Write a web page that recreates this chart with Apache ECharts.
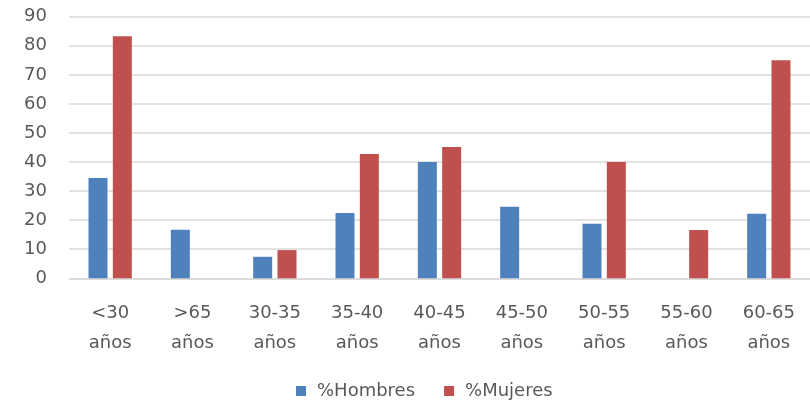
<!DOCTYPE html>
<html>
<head>
<meta charset="utf-8">
<script src="https://cdn.jsdelivr.net/npm/echarts@6/dist/echarts.min.js"></script>
<style>
  html, body { margin: 0; padding: 0; background: #fff; overflow: hidden; }
  #chartDiv { width: 810px; height: 406px; }
</style>
</head>
<body>
<div id="chartDiv"></div>
<script>
// datos
var categorias = ['<30\naños', '>65\naños', '30-35\naños', '35-40\naños', '40-45\naños', '45-50\naños', '50-55\naños', '55-60\naños', '60-65\naños'];
var hombres = [34.5, 16.7, 7.4, 22.5, 40, 24.6, 18.8, 0, 22.2];
var mujeres = [83.3, 0, 9.7, 42.8, 45.2, 0, 40, 16.6, 75];
var yTicks = [0, 10, 20, 30, 40, 50, 60, 70, 80, 90];

var fuente = 'DejaVu Sans';
var gris = '#595959';

var option = {
  animation: false,
  grid: { left: 69, top: 16.7, width: 745, height: 261.6 },
  legend: {
    left: 296,
    top: 382,
    padding: 0,
    itemWidth: 10,
    itemHeight: 10,
    itemGap: 29,
    icon: 'rect',
    data: ['%Hombres', '%Mujeres'],
    textStyle: { fontFamily: fuente, fontSize: 18, color: gris, padding: [0, 0, 0, 6] }
  },
  xAxis: {
    type: 'category',
    data: categorias,
    axisTick: { show: false },
    axisLine: { show: true, lineStyle: { color: '#d9d9d9', width: 1.5 } },
    axisLabel: {
      interval: 0,
      margin: 20,
      lineHeight: 30,
      fontFamily: fuente,
      fontSize: 18,
      color: gris
    }
  },
  yAxis: {
    type: 'value',
    min: yTicks[0],
    max: yTicks[yTicks.length - 1],
    interval: 10,
    axisLine: { show: false },
    axisTick: { show: false },
    splitLine: { lineStyle: { color: '#d9d9d9', width: 1.5 } },
    axisLabel: { margin: 22, fontFamily: fuente, fontSize: 18, color: gris }
  },
  series: [
    {
      name: '%Hombres',
      type: 'bar',
      data: hombres,
      barWidth: 19,
      barGap: '28%',
      itemStyle: { color: '#4f81bd' }
    },
    {
      name: '%Mujeres',
      type: 'bar',
      data: mujeres,
      barWidth: 19,
      itemStyle: { color: '#c0504d' }
    }
  ]
};

var myChart = echarts.init(document.getElementById('chartDiv'));
myChart.setOption(option, true);
</script>
</body>
</html>
